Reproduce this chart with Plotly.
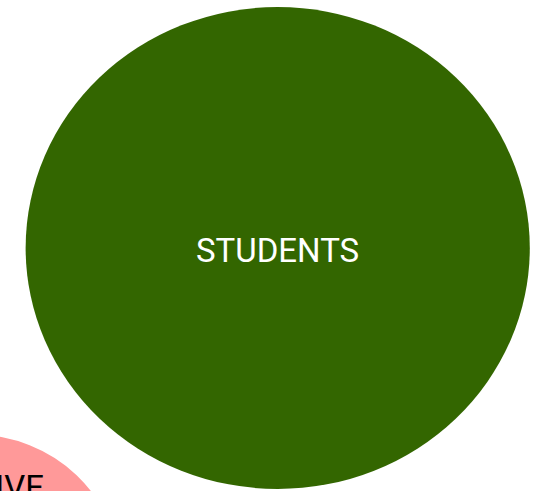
import plotly.graph_objects as go

# Data
labels = ["STUDENTS", "POSITIVE"]
radii = [241, 138.4]

# Layout (packed positions, data units)
centers_x = [265.5, -24.6]
centers_y = [248, 573]
label_y = [250, 487]
colors = ["#336600", "#FF9999"]
text_colors = ["#FFFFFF", "#000000"]

W, H = 540, 491
XSCALE = 1.046

fig = go.Figure()
shapes = []
for cx, cy, r, c in zip(centers_x, centers_y, radii, colors):
    shapes.append(dict(type="circle", xref="x", yref="y",
                       x0=cx - r, x1=cx + r, y0=cy - r, y1=cy + r,
                       fillcolor=c, line=dict(width=0), layer="below"))

annotations = []
for lab, cx, ly, tc in zip(labels, centers_x, label_y, text_colors):
    ax_x = max(cx, 0)
    annotations.append(dict(
        x=ax_x, y=ly, xref="x", yref="y", text=lab, showarrow=False,
        xanchor="center", yanchor="middle", xshift=(cx - ax_x) * XSCALE,
        font=dict(family="Roboto, Liberation Sans Narrow, sans-serif",
                  size=33, color=tc)))

fig.add_trace(go.Scatter(x=[None], y=[None], mode="markers",
                         hoverinfo="skip", showlegend=False))

fig.update_layout(
    width=W, height=H, margin=dict(l=0, r=0, t=0, b=0),
    paper_bgcolor="white", plot_bgcolor="white",
    shapes=shapes, annotations=annotations, showlegend=False,
    xaxis=dict(range=[0, W / XSCALE], visible=False, fixedrange=True),
    yaxis=dict(range=[H, 0], visible=False, fixedrange=True),
)
fig.write_html("out.html", config={"displayModeBar": False},
               post_script="document.body.style.margin='0';document.body.style.overflow='hidden';")
